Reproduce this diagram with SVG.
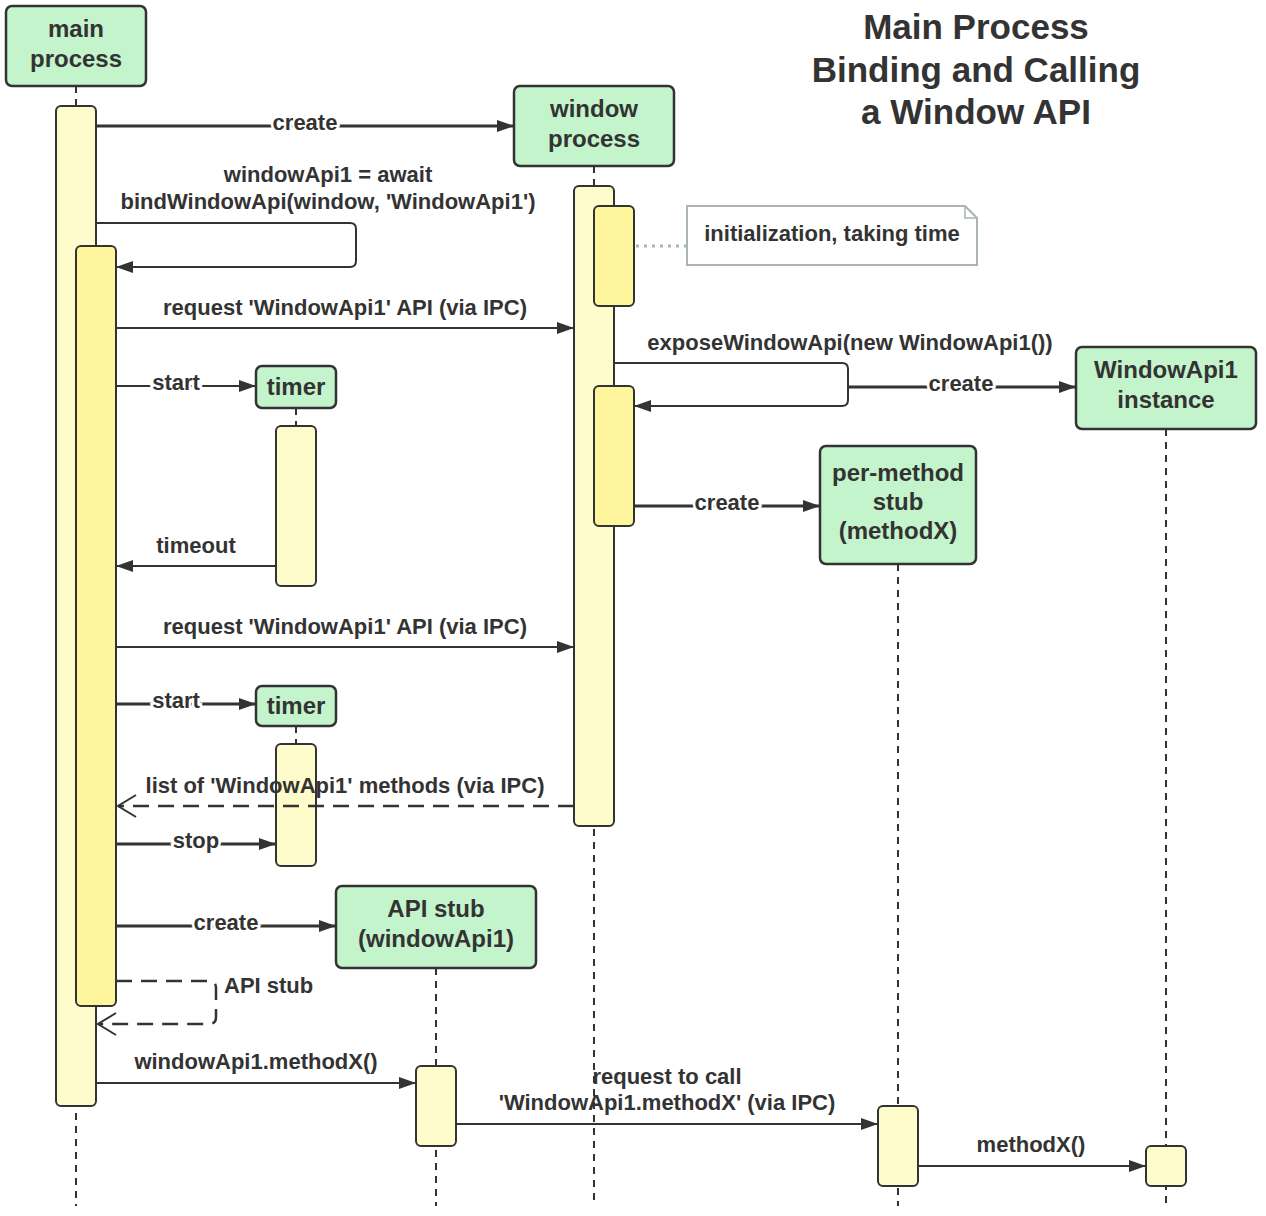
<svg xmlns="http://www.w3.org/2000/svg" width="1266" height="1216" viewBox="0 0 1266 1216">
<defs>
<marker id="arr" markerUnits="userSpaceOnUse" markerWidth="18" markerHeight="14" refX="17" refY="7" orient="auto">
<path d="M0,1 L17,7 L0,13 Z" fill="#333"/>
</marker>
<marker id="open" markerUnits="userSpaceOnUse" markerWidth="22" markerHeight="26" refX="20" refY="13" orient="auto">
<path d="M2,2 L20,13 L2,24" fill="none" stroke="#333" stroke-width="2"/>
</marker>
</defs>
<style>
.node rect.box{fill:#c3f4cb;stroke:#333;stroke-width:2.5}
.nt{font-family:"Liberation Sans",Arial,sans-serif;font-weight:bold;font-size:24px;fill:#333;text-anchor:middle}
.life{stroke:#333;stroke-width:2;stroke-dasharray:7,6;fill:none}
.act{fill:#fefcca;stroke:#333;stroke-width:2}
.act2{fill:#fff59d;stroke:#333;stroke-width:2}
.msg{stroke:#333;stroke-width:2;fill:none}
.msgb{stroke:#333;stroke-width:3;fill:none}
.dash{stroke:#333;stroke-width:2.5;fill:none;stroke-dasharray:16,9}
.lt{font-family:"Liberation Sans",Arial,sans-serif;font-weight:bold;font-size:22px;fill:#333;text-anchor:middle}
.lw{paint-order:stroke;stroke:#fff;stroke-width:5px}
.title{font-family:"Liberation Sans",Arial,sans-serif;font-weight:bold;font-size:35px;fill:#333;text-anchor:middle}
</style>
<rect width="1266" height="1216" fill="#fff"/>

<g id="title">
<text class="title" x="976" y="39">Main Process</text>
<text class="title" x="976" y="82">Binding and Calling</text>
<text class="title" x="976" y="124">a Window API</text>
</g>

<g id="lifelines">
<line class="life" x1="76" y1="86" x2="76" y2="1206"/>
<line class="life" x1="594" y1="166" x2="594" y2="1206"/>
<line class="life" x1="296" y1="408" x2="296" y2="426"/>
<line class="life" x1="296" y1="726" x2="296" y2="744"/>
<line class="life" x1="1166" y1="429" x2="1166" y2="1206"/>
<line class="life" x1="898" y1="564" x2="898" y2="1206"/>
<line class="life" x1="436" y1="968" x2="436" y2="1206"/>
</g>

<g id="main-process" class="node">
<rect class="box" x="6" y="6" width="140" height="80" rx="6"/>
<text class="nt" x="76" y="37">main</text>
<text class="nt" x="76" y="67">process</text>
<rect class="act" x="56" y="106" width="40" height="1000" rx="5"/>
<rect class="act2" x="76" y="246" width="40" height="760" rx="5"/>
</g>

<g id="window-process" class="node">
<rect class="box" x="514" y="86" width="160" height="80" rx="6"/>
<text class="nt" x="594" y="117">window</text>
<text class="nt" x="594" y="147">process</text>
<rect class="act" x="574" y="186" width="40" height="640" rx="5"/>
<rect class="act2" x="594" y="206" width="40" height="100" rx="5"/>
<rect class="act2" x="594" y="386" width="40" height="140" rx="5"/>
</g>

<g id="note">
<line x1="636" y1="246" x2="687" y2="246" stroke="#aab5ae" stroke-width="3" stroke-dasharray="3,5"/>
<path d="M687,206 L965,206 L977,218 L977,265 L687,265 Z" fill="#fff" stroke="#aab5ae" stroke-width="2"/>
<path d="M965,206 L965,218 L977,218" fill="none" stroke="#aab5ae" stroke-width="1.5"/>
<text class="lt" x="832" y="241">initialization, taking time</text>
</g>

<g id="timer-1" class="node">
<rect class="box" x="256" y="366" width="80" height="42" rx="6"/>
<text class="nt" x="296" y="395">timer</text>
<rect class="act" x="276" y="426" width="40" height="160" rx="5"/>
</g>

<g id="timer-2" class="node">
<rect class="box" x="256" y="686" width="80" height="40" rx="6"/>
<text class="nt" x="296" y="714">timer</text>
<rect class="act" x="276" y="744" width="40" height="122" rx="5"/>
</g>

<g id="windowapi1-instance" class="node">
<rect class="box" x="1076" y="347" width="180" height="82" rx="6"/>
<text class="nt" x="1166" y="378">WindowApi1</text>
<text class="nt" x="1166" y="408">instance</text>
<rect class="act" x="1146" y="1146" width="40" height="40" rx="5"/>
</g>

<g id="per-method-stub" class="node">
<rect class="box" x="820" y="446" width="156" height="118" rx="6"/>
<text class="nt" x="898" y="481">per-method</text>
<text class="nt" x="898" y="510">stub</text>
<text class="nt" x="898" y="539">(methodX)</text>
<rect class="act" x="878" y="1106" width="40" height="80" rx="5"/>
</g>

<g id="api-stub" class="node">
<rect class="box" x="336" y="886" width="200" height="82" rx="6"/>
<text class="nt" x="436" y="917">API stub</text>
<text class="nt" x="436" y="947">(windowApi1)</text>
<rect class="act" x="416" y="1066" width="40" height="80" rx="5"/>
</g>

<g id="connectors">
<line class="msgb" x1="96" y1="126" x2="514" y2="126" marker-end="url(#arr)"/>
<text class="lt lw" x="305" y="130">create</text>

<text class="lt" x="328" y="182">windowApi1 = await</text>
<text class="lt" x="328" y="209">bindWindowApi(window, 'WindowApi1')</text>
<path class="msg" d="M96,223 L350,223 Q356,223 356,229 L356,261 Q356,267 350,267 L116,267" marker-end="url(#arr)"/>

<line class="msg" x1="116" y1="328" x2="574" y2="328" marker-end="url(#arr)"/>
<text class="lt" x="345" y="315">request 'WindowApi1' API (via IPC)</text>

<line class="msg" x1="116" y1="386" x2="256" y2="386" marker-end="url(#arr)"/>
<text class="lt lw" x="176" y="390">start</text>

<line class="msg" x1="276" y1="566" x2="116" y2="566" marker-end="url(#arr)"/>
<text class="lt" x="196" y="553">timeout</text>

<line class="msg" x1="116" y1="647" x2="574" y2="647" marker-end="url(#arr)"/>
<text class="lt" x="345" y="634">request 'WindowApi1' API (via IPC)</text>

<line class="msgb" x1="116" y1="704" x2="256" y2="704" marker-end="url(#arr)"/>
<text class="lt lw" x="176" y="708">start</text>

<line class="dash" x1="574" y1="806" x2="118" y2="806" marker-end="url(#open)"/>
<text class="lt" x="345" y="793">list of 'WindowApi1' methods (via IPC)</text>

<line class="msgb" x1="116" y1="844" x2="276" y2="844" marker-end="url(#arr)"/>
<text class="lt lw" x="196" y="848">stop</text>

<line class="msgb" x1="116" y1="926" x2="336" y2="926" marker-end="url(#arr)"/>
<text class="lt lw" x="226" y="930">create</text>

<path class="dash" d="M116,981 L209,981 Q216,981 216,988 L216,1017 Q216,1024 209,1024 L98,1024" marker-end="url(#open)"/>
<text class="lt" x="224" y="993" style="text-anchor:start">API stub</text>

<line class="msg" x1="96" y1="1083" x2="416" y2="1083" marker-end="url(#arr)"/>
<text class="lt" x="256" y="1069">windowApi1.methodX()</text>

<line class="msg" x1="456" y1="1124" x2="878" y2="1124" marker-end="url(#arr)"/>
<text class="lt" x="667" y="1084">request to call</text>
<text class="lt" x="667" y="1110">'WindowApi1.methodX' (via IPC)</text>

<line class="msg" x1="918" y1="1166" x2="1146" y2="1166" marker-end="url(#arr)"/>
<text class="lt" x="1031" y="1152">methodX()</text>

<text class="lt" x="850" y="350">exposeWindowApi(new WindowApi1())</text>
<path class="msg" d="M614,363 L842,363 Q848,363 848,369 L848,400 Q848,406 842,406 L634,406" marker-end="url(#arr)"/>

<line class="msgb" x1="848" y1="387" x2="1076" y2="387" marker-end="url(#arr)"/>
<text class="lt lw" x="961" y="391">create</text>

<line class="msgb" x1="634" y1="506" x2="820" y2="506" marker-end="url(#arr)"/>
<text class="lt lw" x="727" y="510">create</text>
</g>
</svg>
